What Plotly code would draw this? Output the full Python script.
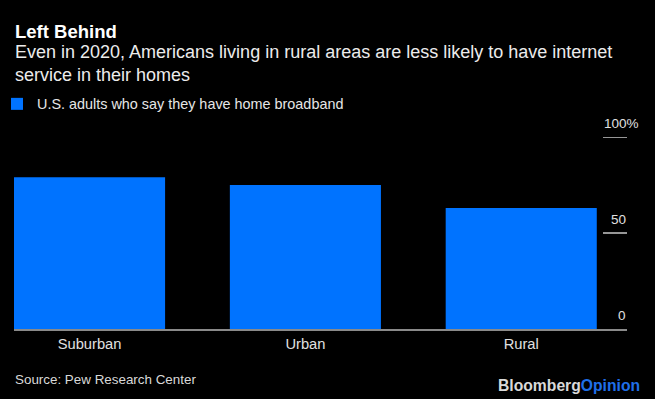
import plotly.graph_objects as go

# ---- data ----
categories = ["Suburban", "Urban", "Rural"]
values = [79, 75, 63]
series_name = "U.S. adults who say they have home broadband"
tick_vals = [0, 50, 100]
tick_text = ["0", "50", "100%"]
grid_vals = [50, 100]

title = "Left Behind"
subtitle = ("Even in 2020, Americans living in rural areas are less likely to have internet"
            "<br>service in their homes")
source = "Source: Pew Research Center"

BLUE = "#0073ff"
W, H = 655, 399
ML, MR, MT, MB = 14, 28, 137, 70
PW, PH = W - ML - MR, H - MT - MB
FONT = "Liberation Sans"


def px_(x):
    """pixel column -> paper x"""
    return (x - ML) / PW


def py_(y):
    """pixel row -> paper y"""
    return (H - MB - y) / PH


fig = go.Figure()
fig.add_trace(go.Bar(
    x=categories, y=values, name=series_name,
    marker=dict(color=BLUE, line=dict(width=0)),
    showlegend=True,
))

annotations = []
annotations.append(dict(text="<b>" + title + "</b>", xref="paper", yref="paper",
                        x=px_(14), y=py_(31.5), xanchor="left", yanchor="middle", showarrow=False,
                        font=dict(family=FONT, size=18.5, color="#ffffff"), borderpad=0))
annotations.append(dict(text=subtitle, xref="paper", yref="paper",
                        x=px_(14), y=py_(63.5), xanchor="left", yanchor="middle", showarrow=False,
                        align="left",
                        font=dict(family=FONT, size=18, color="#ececec"), borderpad=0))
annotations.append(dict(text=source, xref="paper", yref="paper",
                        x=px_(14), y=py_(379), xanchor="left", yanchor="middle", showarrow=False,
                        font=dict(family=FONT, size=13.4, color="#d9d9d9"), borderpad=0))
annotations.append(dict(text="<b>Bloomberg</b><b><span style='color:#1f6fe8'>Opinion</span></b>",
                        xref="paper", yref="paper",
                        x=px_(641), y=py_(385), xanchor="right", yanchor="middle", showarrow=False,
                        font=dict(family=FONT, size=15.7, color="#d9d9d9"), borderpad=0))
# y-axis tick labels: numbers right-aligned on the axis end, "%" hanging past it
for v, t in zip(tick_vals, tick_text):
    hang = 12.5 if t.endswith("%") else 0
    annotations.append(dict(text=t, xref="paper", yref="y", x=1, y=v, xanchor="right",
                            yanchor="middle", yshift=14, xshift=hang, showarrow=False,
                            borderpad=0,
                            font=dict(family=FONT, size=13.5, color="#e0e0e0")))

shapes = []
for v in grid_vals:
    shapes.append(dict(type="line", xref="paper", yref="y", x0=px_(603), x1=1, y0=v, y1=v,
                       line=dict(color="#c8c8c8", width=1.5), layer="above"))

fig.update_layout(
    width=W, height=H,
    paper_bgcolor="#000000", plot_bgcolor="#000000",
    margin=dict(l=ML, r=MR, t=MT, b=MB, pad=0),
    bargap=0.3,
    font=dict(family=FONT, color="#e0e0e0"),
    showlegend=True,
    legend=dict(orientation="h", xref="container", yref="container",
                x=0.0, y=1 - 104 / H, xanchor="left", yanchor="middle",
                font=dict(family=FONT, size=14.4, color="#e6e6e6"),
                bgcolor="rgba(0,0,0,0)", itemwidth=30, indentation=-3),
    annotations=annotations,
    shapes=shapes,
    xaxis=dict(range=[-0.35, 2.49], showline=True, linecolor="#8a8a8a", linewidth=1.5,
               showgrid=False, zeroline=False, ticks="outside", ticklen=1,
               tickcolor="rgba(0,0,0,0)", tickfont=dict(family=FONT, size=14.7, color="#e0e0e0"),
               layer="below traces", fixedrange=True),
    yaxis=dict(range=[0, 100], showgrid=False, zeroline=False, showticklabels=False,
               ticks="", showline=False, fixedrange=True),
)

fig.write_html("out.html",
               config={"displayModeBar": False},
               post_script="document.body.style.margin='0';"
                           "document.body.style.background='#000';")
